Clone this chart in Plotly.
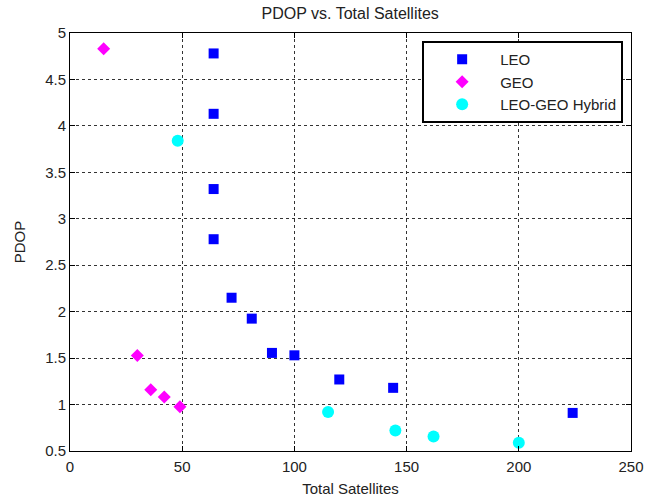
import plotly.graph_objects as go

leo_x = [64, 64, 64, 64, 72, 81, 90, 100, 120, 144, 224]
leo_y = [4.78, 4.13, 3.32, 2.78, 2.15, 1.925, 1.556, 1.53, 1.27, 1.18, 0.91]
geo_x = [15, 30, 36, 42, 49]
geo_y = [4.83, 1.527, 1.16, 1.08, 0.977]
hyb_x = [48, 115, 145, 162, 200]
hyb_y = [3.84, 0.92, 0.72, 0.655, 0.59]

x_ticks = [0, 50, 100, 150, 200, 250]
y_ticks = [0.5, 1, 1.5, 2, 2.5, 3, 3.5, 4, 4.5, 5]

font = "Liberation Sans, Arial, sans-serif"

fig = go.Figure()
fig.add_trace(go.Scatter(x=leo_x, y=leo_y, mode="markers", name="LEO",
                         marker=dict(symbol="square", size=10, color="#0000ff")))
fig.add_trace(go.Scatter(x=geo_x, y=geo_y, mode="markers", name="GEO",
                         marker=dict(symbol="diamond", size=10, color="#ff00ff")))
fig.add_trace(go.Scatter(x=hyb_x, y=hyb_y, mode="markers", name="LEO-GEO Hybrid",
                         marker=dict(symbol="circle", size=12, color="#00ffff")))

axis_common = dict(
    showline=True, linecolor="black", linewidth=1, mirror="ticks",
    ticks="inside", ticklen=5, tickcolor="black",
    showgrid=True, gridcolor="#333333", griddash="dot", gridwidth=1,
    zeroline=False, tickfont=dict(family=font, size=15, color="#222"),
    automargin=False,
)

fig.update_layout(
    width=657, height=497,
    margin=dict(l=70, r=26, t=33, b=46),
    paper_bgcolor="white", plot_bgcolor="white",
    title=dict(text="PDOP vs. Total Satellites", x=0.533, xanchor="center",
               y=0.985, yanchor="top",
               font=dict(family=font, size=16, color="#222")),
    xaxis=dict(range=[0, 250], tickvals=x_ticks, ticklabelstandoff=2,
               title=dict(text="Total Satellites", font=dict(family=font, size=15, color="#222")),
               **axis_common),
    yaxis=dict(range=[0.5, 5], tickvals=y_ticks, tickformat="~g",
               title=dict(text="PDOP", font=dict(family=font, size=15, color="#222")),
               **axis_common),
    legend=dict(x=0.986, y=0.981, xanchor="right", yanchor="top",
                bgcolor="white", bordercolor="black", borderwidth=2,
                font=dict(family=font, size=15, color="#222"),
                itemwidth=66, tracegroupgap=0),
    showlegend=True,
)

fig.write_html("out.html")
